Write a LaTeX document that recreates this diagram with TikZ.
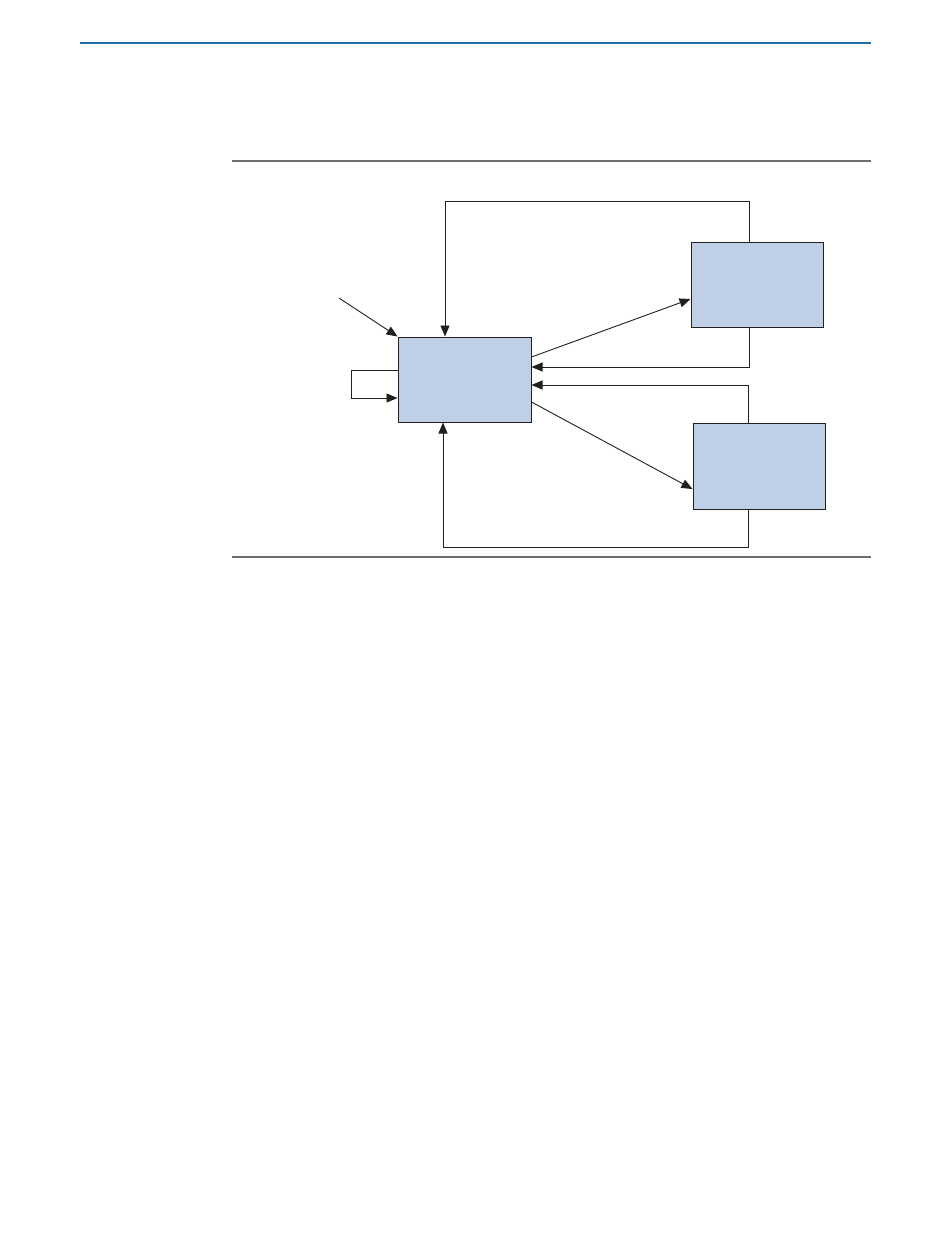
\documentclass[tikz,border=0pt]{standalone}
\usetikzlibrary{arrows.meta,calc}
\definecolor{boxfill}{RGB}{191,208,230}
\definecolor{ink}{RGB}{35,31,32}
\definecolor{rulegray}{RGB}{110,110,110}
\definecolor{ruleblue}{RGB}{30,110,170}
\begin{document}
\begin{tikzpicture}[x=1pt,y=-1pt,
  blk/.style={draw=ink,fill=boxfill,line width=1pt,rectangle,inner sep=0pt},
  conn/.style={draw=ink,line width=0.9pt},
  arr/.style={conn,-{Triangle[length=11pt,width=9pt]}}]
\useasboundingbox (0,0) rectangle (950,1254);
\fill[white] (0,0) rectangle (950,1254);
% rules
\draw[ruleblue,line width=2pt] (80,43) -- (871,43);
\draw[rulegray,line width=1.2pt] (232,161) -- (871,161);
\draw[rulegray,line width=1.2pt] (232,557) -- (871,557);
% boxes
\node[blk,minimum width=133pt,minimum height=85pt] (main) at (464.5,379.5) {};
\node[blk,minimum width=132pt,minimum height=85pt] (tr) at (757,284.5) {};
\node[blk,minimum width=132pt,minimum height=86pt] (br) at (759,466) {};
\coordinate (src) at (339,298);
% connectors
\draw[arr] (src) -- (main.north west);
\draw[arr] ($(tr.north)+(-8,0)$) |- (445,201) -- ($(main.north)+(-19.5,0)$);
\draw[arr] ($(main.west)+(0,-9.5)$) -| (351,398) -- ($(main.west)+(0,18.5)$);
\draw[arr] ($(main.east)+(0,-22.5)$) -- ($(tr.west)+(0,14.5)$);
\draw[arr] ($(tr.south)+(-8,0)$) |- ($(main.east)+(0,-12.5)$);
\draw[arr] ($(br.north)+(-11,0)$) |- ($(main.east)+(0,5.5)$);
\draw[arr] ($(main.east)+(0,22.5)$) -- ($(br.west)+(0,23)$);
\draw[arr] ($(br.south)+(-11,0)$) |- (443,547) -- ($(main.south)+(-21.5,0)$);
\end{tikzpicture}
\end{document}
